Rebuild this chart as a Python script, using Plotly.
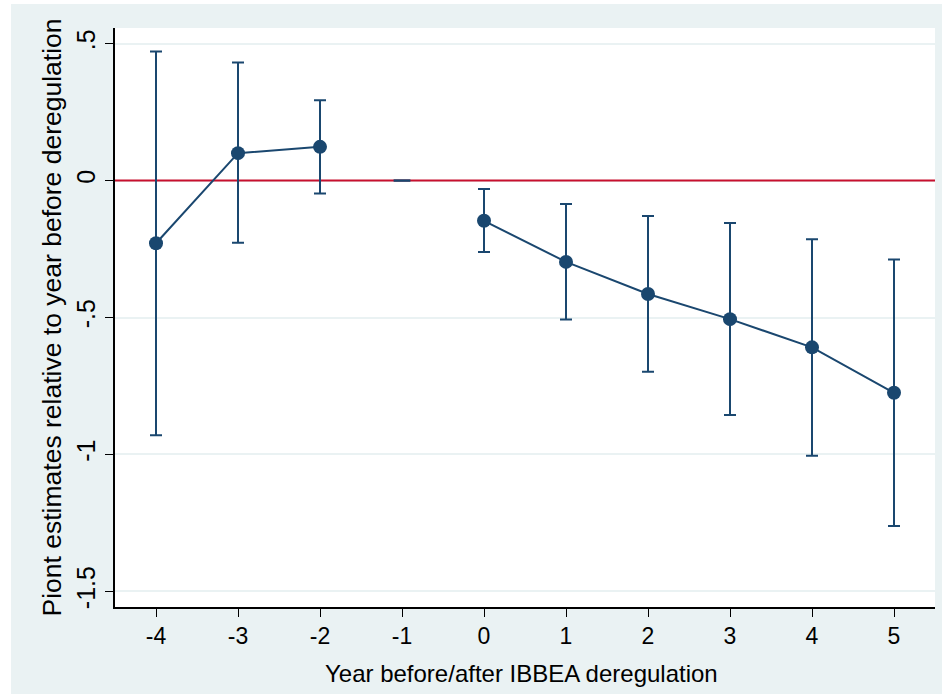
import plotly.graph_objects as go

# ---- data ----
years = [-4, -3, -2, -1, 0, 1, 2, 3, 4, 5]
estimate = [-0.229, 0.100, 0.123, 0.0, -0.147, -0.297, -0.414, -0.506, -0.609, -0.775]
ci_upper = [0.471, 0.431, 0.293, 0.0, -0.031, -0.086, -0.129, -0.155, -0.214, -0.288]
ci_lower = [-0.930, -0.227, -0.047, 0.0, -0.261, -0.507, -0.698, -0.856, -1.005, -1.261]
reference_year = -1
ytick_vals = [-1.5, -1.0, -0.5, 0.0, 0.5]
ytick_text = ["-1.5", "-1", "-.5", "0", ".5"]
xtick_vals = [-4, -3, -2, -1, 0, 1, 2, 3, 4, 5]
xtick_text = ["-4", "-3", "-2", "-1", "0", "1", "2", "3", "4", "5"]

NAVY = "#1A476F"
RED = "#C8102E"
BG = "#EAF2F3"
FONT = "Liberation Sans, Arial, sans-serif"
XRANGE = [-4.5, 5.5]
YRANGE = [-1.557, 0.557]

fig = go.Figure()

# horizontal zero reference line across the full x range
fig.add_trace(go.Scatter(
    x=XRANGE, y=[0, 0], mode="lines", line=dict(color=RED, width=2),
    showlegend=False, hoverinfo="skip",
))


def segment(cond):
    idx = [i for i, yr in enumerate(years) if cond(yr)]
    xs = [years[i] for i in idx]
    ys = [estimate[i] for i in idx]
    up = [ci_upper[i] - estimate[i] for i in idx]
    dn = [estimate[i] - ci_lower[i] for i in idx]
    return xs, ys, up, dn


for cond in (lambda yr: yr < reference_year, lambda yr: yr > reference_year):
    xs, ys, up, dn = segment(cond)
    fig.add_trace(go.Scatter(
        x=xs, y=ys, mode="lines+markers",
        line=dict(color=NAVY, width=2),
        marker=dict(color=NAVY, size=14),
        error_y=dict(type="data", symmetric=False, array=up, arrayminus=dn,
                     color=NAVY, thickness=2, width=6),
        showlegend=False, hoverinfo="skip",
    ))

# reference year: zero-width CI (cap only)
xs, ys, up, dn = segment(lambda yr: yr == reference_year)
fig.add_trace(go.Scatter(
    x=xs, y=ys, mode="markers",
    marker=dict(color=NAVY, size=12, symbol="line-ew", line=dict(color=NAVY, width=2.5)),
    showlegend=False, hoverinfo="skip",
))

fig.update_layout(
    width=942, height=694,
    margin=dict(l=115, r=7, t=28, b=87),
    paper_bgcolor=BG, plot_bgcolor="white",
    font=dict(family=FONT, color="black"),
    xaxis=dict(
        range=XRANGE, tickvals=xtick_vals, ticktext=xtick_text, automargin=False,
        ticks="outside", ticklen=8, tickwidth=1, tickcolor="black",
        showline=True, linecolor="black", linewidth=1.5,
        showgrid=False, zeroline=False,
        tickfont=dict(size=23, family=FONT, color="black"),
    ),
    yaxis=dict(
        range=YRANGE, tickvals=ytick_vals, ticktext=ytick_text, automargin=False,
        tickangle=-90,
        ticks="outside", ticklen=8, tickwidth=1, tickcolor="black",
        showline=True, linecolor="black", linewidth=1.5,
        showgrid=True, gridcolor=BG, gridwidth=2, zeroline=False,
        tickfont=dict(size=25, family=FONT, color="black"),
    ),
    annotations=[
        dict(text="Year before/after IBBEA deregulation", xref="paper", yref="paper",
             x=0.5, y=0, xanchor="center", yanchor="middle", yshift=-66, xshift=-4,
             showarrow=False, font=dict(size=24, family=FONT, color="black")),
        dict(text="Piont estimates relative to year before deregulation", xref="paper", yref="paper",
             x=0, y=0.5, xanchor="center", yanchor="middle", xshift=-64, textangle=-90,
             showarrow=False, font=dict(size=26.5, family=FONT, color="black")),
    ],
    shapes=[
        dict(type="rect", xref="paper", yref="paper", x0=-0.15, x1=-0.1268, y0=-0.2, y1=1.1,
             fillcolor="white", line=dict(width=0), layer="above"),
        dict(type="rect", xref="paper", yref="paper", x0=-0.15, x1=1.1, y0=1.0415, y1=1.1,
             fillcolor="white", line=dict(width=0), layer="above"),
    ],
)

fig.write_html("out.html", config={"displayModeBar": False},
               post_script="document.body.style.margin='0px';")
